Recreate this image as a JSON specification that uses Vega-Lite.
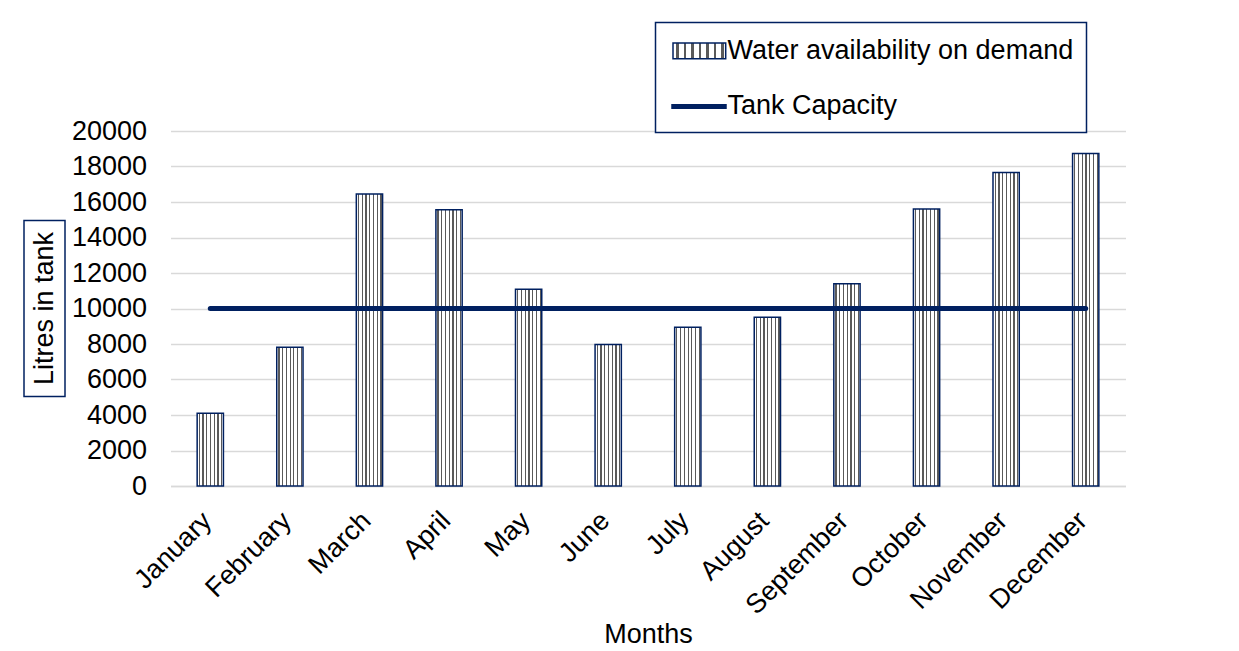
{
  "$schema": "https://vega.github.io/schema/vega-lite/v6.json",
  "background": "white",
  "padding": {"top": 21, "left": 23, "right": 10, "bottom": 0},
  "config": {
    "font": "Liberation Sans",
    "view": {"stroke": null},
    "axis": {
      "labelFont": "Liberation Sans",
      "labelFontSize": 27,
      "labelColor": "#000000",
      "titleFont": "Liberation Sans",
      "titleFontSize": 27,
      "titleFontWeight": "normal",
      "titleColor": "#000000",
      "ticks": false
    },
    "axisY": {"labelOverlap": false, "tickCount": 20},
    "legend": {
      "orient": "none",
      "legendX": 631.5,
      "legendY": -108.6,
      "labelFont": "Liberation Sans",
      "labelFontSize": 27,
      "labelColor": "#000000",
      "labelLimit": 600,
      "padding": 12.5,
      "rowPadding": 25,
      "labelOffset": 24.5,
      "symbolSize": 900,
      "symbolOpacity": 1,
      "strokeColor": "#002060",
      "strokeWidth": 1.5,
      "fillColor": "#ffffff"
    }
  },
  "datasets": {
    "months": [
      {"month": "January", "availability": 4100, "capacity": 10000},
      {"month": "February", "availability": 7820, "capacity": 10000},
      {"month": "March", "availability": 16450, "capacity": 10000},
      {"month": "April", "availability": 15560, "capacity": 10000},
      {"month": "May", "availability": 11090, "capacity": 10000},
      {"month": "June", "availability": 7970, "capacity": 10000},
      {"month": "July", "availability": 8950, "capacity": 10000},
      {"month": "August", "availability": 9510, "capacity": 10000},
      {"month": "September", "availability": 11390, "capacity": 10000},
      {"month": "October", "availability": 15610, "capacity": 10000},
      {"month": "November", "availability": 17660, "capacity": 10000},
      {"month": "December", "availability": 18730, "capacity": 10000}
    ]
  },
  "spacing": 105.5,
  "bounds": "flush",
  "center": true,
  "hconcat": [
    {
      "width": 41,
      "height": 176,
      "view": {"stroke": "#002060", "strokeWidth": 1.5},
      "data": {"values": [{"label": "Litres in tank"}]},
      "mark": {"type": "text", "angle": 270, "fontSize": 27, "font": "Liberation Sans", "color": "#000000"},
      "encoding": {"text": {"field": "label", "type": "nominal"}}
    },
    {
      "width": 955,
      "height": 355,
      "data": {"name": "months"},
      "encoding": {
        "x": {
          "field": "month",
          "type": "nominal",
          "sort": null,
          "scale": {"paddingInner": 0, "paddingOuter": 0},
          "axis": {
            "title": "Months",
            "labelAngle": -45,
            "labelPadding": 21,
            "labelOffset": -12,
            "titlePadding": 3,
            "domainColor": "#d9d9d9",
            "domainWidth": 1.5,
            "grid": false
          }
        }
      },
      "layer": [
        {
          "mark": {
            "type": "bar",
            "width": {"band": 0.33},
            "strokeWidth": 1.5,
            "fill": {
              "gradient": "linear",
              "x1": 0, "y1": 0, "x2": 1, "y2": 0,
              "stops": [
                {"offset": 0, "color": "#ffffff"},
                {"offset": 0.06, "color": "#ffffff"}, {"offset": 0.06, "color": "#5a5a5a"}, {"offset": 0.105, "color": "#5a5a5a"}, {"offset": 0.105, "color": "#ffffff"},
                {"offset": 0.203, "color": "#ffffff"}, {"offset": 0.203, "color": "#5a5a5a"}, {"offset": 0.248, "color": "#5a5a5a"}, {"offset": 0.248, "color": "#ffffff"},
                {"offset": 0.346, "color": "#ffffff"}, {"offset": 0.346, "color": "#5a5a5a"}, {"offset": 0.391, "color": "#5a5a5a"}, {"offset": 0.391, "color": "#ffffff"},
                {"offset": 0.489, "color": "#ffffff"}, {"offset": 0.489, "color": "#5a5a5a"}, {"offset": 0.534, "color": "#5a5a5a"}, {"offset": 0.534, "color": "#ffffff"},
                {"offset": 0.631, "color": "#ffffff"}, {"offset": 0.631, "color": "#5a5a5a"}, {"offset": 0.676, "color": "#5a5a5a"}, {"offset": 0.676, "color": "#ffffff"},
                {"offset": 0.774, "color": "#ffffff"}, {"offset": 0.774, "color": "#5a5a5a"}, {"offset": 0.819, "color": "#5a5a5a"}, {"offset": 0.819, "color": "#ffffff"},
                {"offset": 0.917, "color": "#ffffff"}, {"offset": 0.917, "color": "#5a5a5a"}, {"offset": 0.962, "color": "#5a5a5a"}, {"offset": 0.962, "color": "#ffffff"},
                {"offset": 1, "color": "#ffffff"}
              ]
            }
          },
          "encoding": {
            "y": {
              "field": "availability",
              "type": "quantitative",
              "scale": {"domain": [0, 20000], "nice": false},
              "axis": {
                "title": null,
                "values": [0, 2000, 4000, 6000, 8000, 10000, 12000, 14000, 16000, 18000, 20000],
                "tickCount": 20,
                "format": "d",
                "domain": false,
                "labelOverlap": false,
                "gridColor": "#d9d9d9",
                "gridWidth": 1.5,
                "labelPadding": 24
              }
            },
            "stroke": {
              "datum": "Water availability on demand",
              "scale": {"domain": ["Water availability on demand", "Tank Capacity"], "range": ["#002060", "#002060"]},
              "legend": {"orient": "none", "legendX": 631.5, "legendY": -108.6, "title": null}
            }
          }
        },
        {
          "mark": {"type": "line", "strokeWidth": 5, "strokeCap": "round"},
          "encoding": {
            "y": {"field": "capacity", "type": "quantitative"},
            "stroke": {"datum": "Tank Capacity"}
          }
        },
        {
          "mark": {"type": "point", "opacity": 0, "filled": false},
          "encoding": {
            "y": {"field": "capacity", "type": "quantitative"},
            "shape": {
              "datum": "Water availability on demand",
              "scale": {
                "domain": ["Water availability on demand", "Tank Capacity"],
                "range": ["M-0.833,-0.52H2.68V0.52H-0.833Z", "M-0.95,0H2.75"]
              },
              "legend": {"orient": "none", "legendX": 631.5, "legendY": -108.6, "title": null}
            },
            "strokeWidth": {
              "datum": "Water availability on demand",
              "scale": {
                "type": "ordinal",
                "domain": ["Water availability on demand", "Tank Capacity"],
                "range": [1.5, 5]
              },
              "legend": {"orient": "none", "legendX": 631.5, "legendY": -108.6, "title": null}
            }
          }
        }
      ]
    }
  ]
}
